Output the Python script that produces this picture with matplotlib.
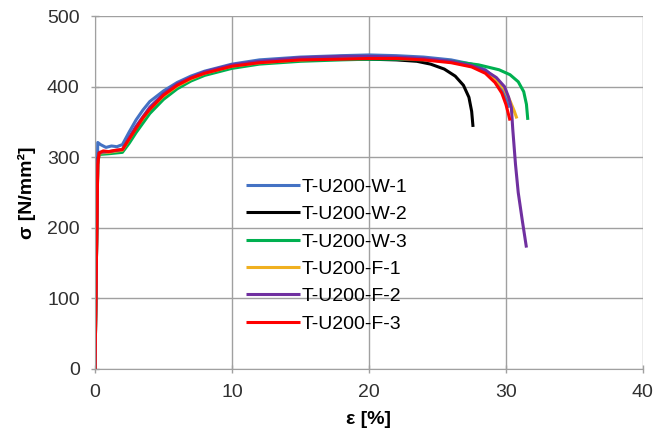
import matplotlib
matplotlib.use("Agg")
import matplotlib.pyplot as plt

plt.rcParams['font.family'] = ['Liberation Sans', 'DejaVu Sans']

# ==========================================
# Datos
# ==========================================

labels = ['T-U200-W-1', 'T-U200-W-2', 'T-U200-W-3',
          'T-U200-F-1', 'T-U200-F-2', 'T-U200-F-3']
colors = ['#4472C4', '#000000', '#00B050', '#F0B020', '#7030A0', '#FF0000']

eps_w1 = [0, 0.1, 0.2, 0.4, 0.8, 1.2, 1.6, 2.0, 2.5, 3, 3.5, 4, 5, 6, 7, 8, 10, 12, 15, 18,
          20, 22, 24, 26, 27.5, 28.5, 29.2, 29.6, 30.0, 30.2]
sig_w1 = [0, 200, 321, 318, 314, 316, 315, 318, 336, 353, 367, 379, 394, 406, 415, 422, 432, 438, 442, 444,
          445, 444, 442, 438, 432, 424, 412, 400, 385, 370]

eps_w2 = [0, 0.1, 0.2, 0.3, 1, 2, 2.5, 3, 4, 5, 6, 7, 8, 10, 12, 15, 18, 20, 22, 23.5,
          24.5, 25.5, 26.3, 26.9, 27.3, 27.5, 27.6]
sig_w2 = [0, 150, 295, 306, 307, 310, 326, 342, 368, 387, 401, 411, 419, 429, 434, 438, 439, 439, 438, 436,
          432, 425, 415, 402, 385, 365, 343]

eps_w3 = [0, 0.1, 0.2, 0.3, 1, 2, 2.5, 3, 4, 5, 6, 7, 8, 10, 12, 15, 18, 20, 22, 24,
          26, 28, 29.5, 30.3, 30.9, 31.3, 31.5, 31.6]
sig_w3 = [0, 150, 290, 304, 305, 307, 320, 335, 362, 382, 397, 408, 416, 426, 432, 436, 438, 439, 439, 438,
          436, 431, 424, 417, 407, 393, 375, 353]

eps_f1 = [0, 0.1, 0.2, 0.3, 1, 2, 2.5, 3, 4, 5, 6, 7, 8, 10, 12, 15, 18, 20, 22, 24,
          26, 27.5, 28.5, 29.3, 29.9, 30.3, 30.6, 30.8]
sig_f1 = [0, 150, 292, 306, 307, 310, 326, 342, 368, 387, 401, 411, 419, 429, 434, 438, 440, 441, 441, 439,
          435, 429, 421, 410, 396, 380, 366, 355]

eps_f2 = [0, 0.1, 0.2, 0.3, 1, 2, 2.5, 3, 4, 5, 6, 7, 8, 10, 12, 15, 18, 20, 22, 24,
          26, 27.5, 28.5, 29.3, 29.9, 30.2, 30.4, 30.5, 30.7, 30.9, 31.2, 31.5]
sig_f2 = [0, 150, 295, 307, 308, 311, 328, 344, 371, 390, 404, 413, 421, 431, 436, 441, 443, 443, 442, 440,
          436, 430, 423, 413, 400, 385, 370, 340, 290, 250, 210, 172]

eps_f3 = [0, 0.1, 0.2, 0.3, 0.6, 1.0, 1.5, 2.0, 2.5, 3, 3.5, 4, 5, 6, 7, 8, 10, 12, 15, 18,
          20, 22, 24, 26, 27.5, 28.5, 29.2, 29.7, 30.0, 30.2, 30.3]
sig_f3 = [0, 150, 290, 306, 309, 308, 310, 311, 326, 341, 356, 368, 388, 402, 412, 419, 429, 434, 438, 439,
          440, 440, 438, 434, 428, 419, 406, 391, 375, 360, 352]

eps_all = [eps_w1, eps_w2, eps_w3, eps_f1, eps_f2, eps_f3]
sig_all = [sig_w1, sig_w2, sig_w3, sig_f1, sig_f2, sig_f3]

# ==========================================
# Gráfico
# ==========================================

fig = plt.figure(figsize=(6.58, 4.36), dpi=100)
ax = fig.add_axes([0.1444, 0.1537, 0.8326, 0.8093])

for e, s, c, lab in zip(eps_all, sig_all, colors, labels):
    ax.plot(e, s, color=c, lw=2.2, label=lab, solid_capstyle='butt')

ax.set_xlim(0, 40)
ax.set_ylim(0, 500)
ax.set_xticks([0, 10, 20, 30, 40])
ax.set_yticks([0, 100, 200, 300, 400, 500])

ax.grid(True, color='#A0A0A0', lw=1.0)
ax.set_axisbelow(True)
for sp in ['top', 'right']:
    ax.spines[sp].set_visible(False)
for sp in ['left', 'bottom']:
    ax.spines[sp].set_color('#A0A0A0')
ax.tick_params(colors='#A0A0A0', labelcolor='#303030', labelsize=14,
               direction='inout', length=6, width=1.0, pad=8)

ax.set_xlabel('ε [%]', fontsize=14, fontweight='bold', labelpad=7)
ax.set_ylabel('σ [N/mm²]', fontsize=14, fontweight='bold', labelpad=8)

ax.legend(loc='upper left', bbox_to_anchor=(0.251, 0.579), frameon=False,
          fontsize=14, handlelength=2.75, handletextpad=0.1, labelspacing=0.5,
          borderpad=0.2)

fig.savefig('out.png', dpi=100)
